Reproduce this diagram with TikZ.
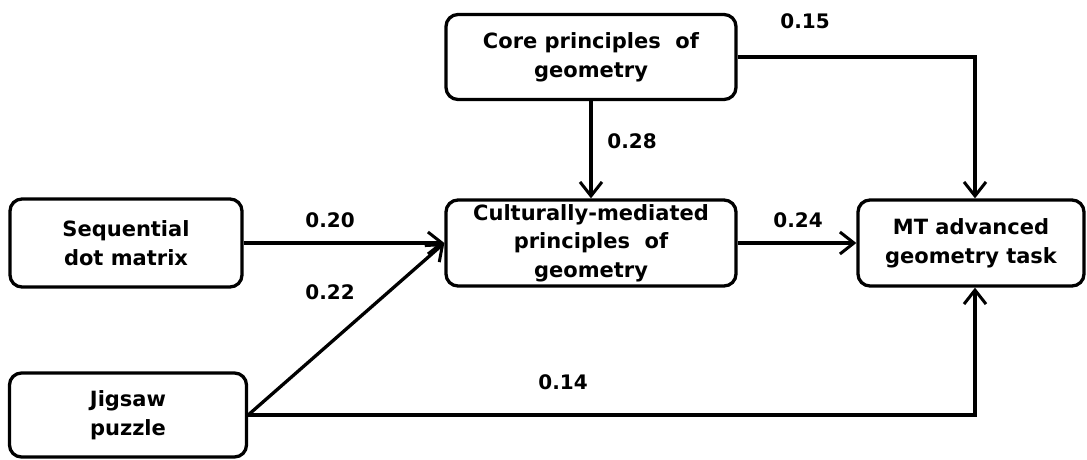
\documentclass[tikz,border=0pt]{standalone}
\usepackage{fontspec}
\setmainfont{DejaVu Sans}
\usetikzlibrary{arrows.meta}
\begin{document}
\begin{tikzpicture}[
        x=1pt, y=-1pt,
        box/.style={draw, line width=3.3pt, rounded corners=12pt, align=center,
            font=\fontsize{21}{29}\selectfont\bfseries, inner sep=0pt},
        path/.style={-{Straight Barb[length=14pt, width=22pt, line width=3pt]}, line width=3.3pt},
        coef/.style={font=\fontsize{20}{24}\selectfont\bfseries}
    ]
        \useasboundingbox (0,0) rectangle (1087,459);
        \node[box, minimum width=232pt, minimum height=88pt] (seq) at (126,243) {Sequential\\dot matrix};
        \node[box, minimum width=237pt, minimum height=84pt] (jig) at (128,415) {Jigsaw\\puzzle};
        \node[box, minimum width=290pt, minimum height=85pt] (core) at (591,57) {Core principles\ \ of\\geometry};
        \node[box, minimum width=290pt, minimum height=86pt, font=\fontsize{21}{28.5}\selectfont\bfseries] (cult) at (591,243) {Culturally-mediated\\principles\ \ of\\geometry};
        \node[box, minimum width=226pt, minimum height=86pt] (mt) at (971,243) {MT advanced\\geometry task};
        \coordinate (c1) at (975,57);
        \coordinate (c2) at (975,415);
        \draw[path] (seq) -- (cult);
        \draw[path] (jig.east) -- (cult.west);
        \draw[path] (core) -- (cult);
        \draw[path] (cult) -- (mt);
        \draw[path] (core.east) -- (c1) -- (mt.north -| c1);
        \draw[path] (jig.east) -- (c2) -- (mt.south -| c2);
        \node[coef] (l15) at (805,21) {0.15};
        \node[coef] (l28) at (632,141) {0.28};
        \node[coef] (l20) at (330,220) {0.20};
        \node[coef] (l22) at (330,292) {0.22};
        \node[coef] (l24) at (798,220) {0.24};
        \node[coef] (l14) at (563,382) {0.14};
    \end{tikzpicture}
\end{document}
